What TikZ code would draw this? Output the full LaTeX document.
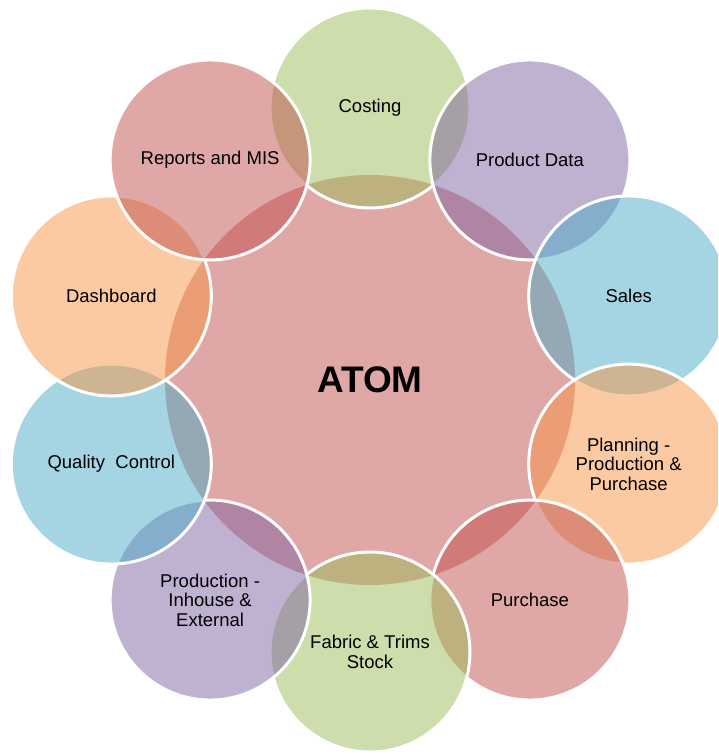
\documentclass[tikz,border=0pt]{standalone}
\usepackage{fontspec}
\setmainfont{Liberation Sans}
\usepackage{tikz}
\definecolor{cgreen}{HTML}{9BBB59}
\definecolor{cpurple}{HTML}{8064A2}
\definecolor{cblue}{HTML}{4BACC6}
\definecolor{corange}{HTML}{F79646}
\definecolor{cred}{HTML}{C0504D}
\tikzset{every picture/.style={line width=3pt}}
\tikzset{bubble/.style={draw=white, circle, fill opacity=0.5, text opacity=1, minimum size=200pt, inner sep=0pt, align=center, font=\fontsize{18.5}{19.5}\selectfont}}
\tikzset{hub/.style={circle, fill=cred, fill opacity=0.5, text opacity=1, minimum size=410pt, inner sep=0pt, font=\fontsize{37}{42}\selectfont\bfseries}}

\begin{document}
\begin{tikzpicture}
\useasboundingbox (-370pt,-374pt) rectangle (348pt,380pt);
\clip (-370pt,-374pt) rectangle (348pt,380pt);
\node[hub] (atom) at (0,0) {ATOM};
\foreach \lbl/\col [count=\i] in {Costing/cgreen, Product Data/cpurple, Sales/cblue, {Planning -\\ Production \&\\ Purchase}/corange, Purchase/cred, {Fabric \& Trims\\ Stock}/cgreen, {Production -\\ Inhouse \&\\ External}/cpurple, {Quality\ \ Control}/cblue, Dashboard/corange, Reports and MIS/cred} {
\pgfmathsetmacro{\ang}{90 - 36*(\i - 1)}
\node[bubble, fill=\col] (b\i) at (\ang:272pt) {\lbl};
}
\end{tikzpicture}
\end{document}
